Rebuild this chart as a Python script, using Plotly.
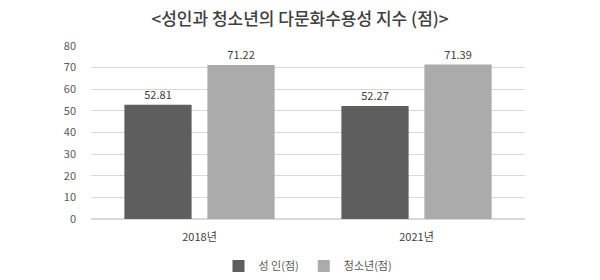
import plotly.graph_objects as go

categories = ["2018년", "2021년"]
adult = [52.81, 52.27]
youth = [71.22, 71.39]
series_names = ["성 인(점)", "청소년(점)"]
y_ticks = [0, 10, 20, 30, 40, 50, 60, 70, 80]
title_text = "&lt;성인과 청소년의 다문화수용성 지수 (점)&gt;"

FONT = "Noto Sans CJK KR"

fig = go.Figure()
fig.add_trace(go.Bar(
    x=categories, y=adult, name=series_names[0],
    marker=dict(color="#5e5e5e", line=dict(width=0)),
    text=[f"{v:.2f}" for v in adult], textposition="outside",
    textfont=dict(size=11, color="#404040", family=FONT),
    cliponaxis=False,
))
fig.add_trace(go.Bar(
    x=categories, y=youth, name=series_names[1],
    marker=dict(color="#ababab", line=dict(width=0)),
    text=[f"{v:.2f}" for v in youth], textposition="outside",
    textfont=dict(size=11, color="#404040", family=FONT),
    cliponaxis=False,
))

fig.update_layout(
    width=600, height=280,
    margin=dict(l=91, r=75, t=46, b=61, autoexpand=False),
    paper_bgcolor="white", plot_bgcolor="white",
    font=dict(family=FONT, color="#595959", size=11),
    barmode="group", bargap=0.235, bargroupgap=0.19,
    title=dict(text=title_text, x=0.5, xanchor="center",
               yref="container", y=1 - 19 / 280, yanchor="middle",
               font=dict(size=17, color="#404040", family=FONT, weight=500)),
    showlegend=True,
    legend=dict(orientation="h", x=0.5, xanchor="center",
                yref="container", y=1 - 266 / 280, yanchor="middle",
                font=dict(size=11, color="#595959", family=FONT),
                itemwidth=30, traceorder="normal"),
    xaxis=dict(showgrid=False, showline=False, ticks="", ticklabelstandoff=10,
               tickfont=dict(size=11, color="#404040")),
    yaxis=dict(range=[0, 80], tickvals=y_ticks, showgrid=True, gridcolor="#d9d9d9",
               gridwidth=1, zeroline=True, zerolinecolor="#d9d9d9", showline=False,
               ticks="", ticklabelstandoff=14,
               tickfont=dict(size=11, color="#595959")),
)

fig.write_html("out.html")
